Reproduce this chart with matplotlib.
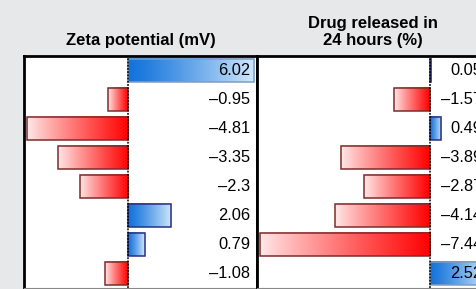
import numpy as np
import matplotlib
matplotlib.use("Agg")
import matplotlib.pyplot as plt
from matplotlib.patches import Rectangle
from matplotlib.colors import to_rgb

plt.rcParams['font.family'] = ['Liberation Sans', 'DejaVu Sans']

# ---- data ----
zeta = [6.02, -0.95, -4.81, -3.35, -2.3, 2.06, 0.79, -1.08]
drug = [0.05, -1.57, 0.49, -3.89, -2.87, -4.14, -7.44, 2.52]
titles = ["Zeta potential (mV)", "Drug released in\n24 hours (%)"]
xlims = [(-4.95, 6.14), (-7.57, 2.58)]

BG = "#e6e8e9"
fig = plt.figure(figsize=(4.77, 2.89), dpi=100, facecolor=BG)

W, H = 477, 289
top_px, bot_px = 56, 288
panels_px = [(24, 257), (257, 489)]


def grad_img(neg, n=256):
    t = np.linspace(0, 1, n)
    if neg:
        c0 = np.array(to_rgb("#ffeaea"))   # far end (left)
        c1 = np.array(to_rgb("#ff0000"))   # zero end (right)
        tt = t ** 0.9
    else:
        c0 = np.array(to_rgb("#1273dc"))   # zero end (left)
        c1 = np.array(to_rgb("#d2e8fb"))   # far end (right)
        tt = t ** 1.2
    img = c0[None, :] * (1 - tt[:, None]) + c1[None, :] * tt[:, None]
    return img[None, :, :]


for i, (vals, title, xl, (l_px, r_px)) in enumerate(zip([zeta, drug], titles, xlims, panels_px)):
    ax = fig.add_axes([l_px / W, 1 - bot_px / H, (r_px - l_px) / W, (bot_px - top_px) / H])
    ax.set_facecolor("white")
    ax.set_xlim(*xl)
    n = len(vals)
    ax.set_ylim(n - 0.5, -0.5)
    ax.set_xticks([])
    ax.set_yticks([])
    for s in ["left", "top", "right"]:
        ax.spines[s].set_linewidth(2.0)
        ax.spines[s].set_color("black")
    ax.spines["bottom"].set_linewidth(0.8)
    ax.spines["bottom"].set_color("#888888")

    h = 0.8
    for y, v in enumerate(vals):
        neg = v < 0
        x0, x1 = (v, 0) if neg else (0, v)
        ax.imshow(grad_img(neg), extent=[x0, x1, y + h / 2, y - h / 2],
                  aspect="auto", interpolation="bilinear", zorder=2)
        ec = "#7d2b2b" if neg else "#2b2f80"
        if not neg and abs(v) > 2.3:
            ec = "#7f9cc4"
        ax.add_patch(Rectangle((x0, y - h / 2), x1 - x0, h, facecolor="none",
                               edgecolor=ec, lw=1.1, zorder=3))
        lab = f"{v:g}".replace("-", "\u2013")
        ax.annotate(lab, xy=(1, y), xycoords=("axes fraction", "data"),
                    xytext=(-7, 0), textcoords="offset pixels",
                    ha="right", va="center", fontsize=11.8, color="black", zorder=5)
    ax.axvline(0, color="black", lw=1.1, ls=(0, (1.2, 0.9)), zorder=4)
    ax.set_title(title, fontsize=12, fontweight="bold", pad=8, linespacing=1.15)

fig.savefig("out.png", dpi=100, facecolor=BG)
